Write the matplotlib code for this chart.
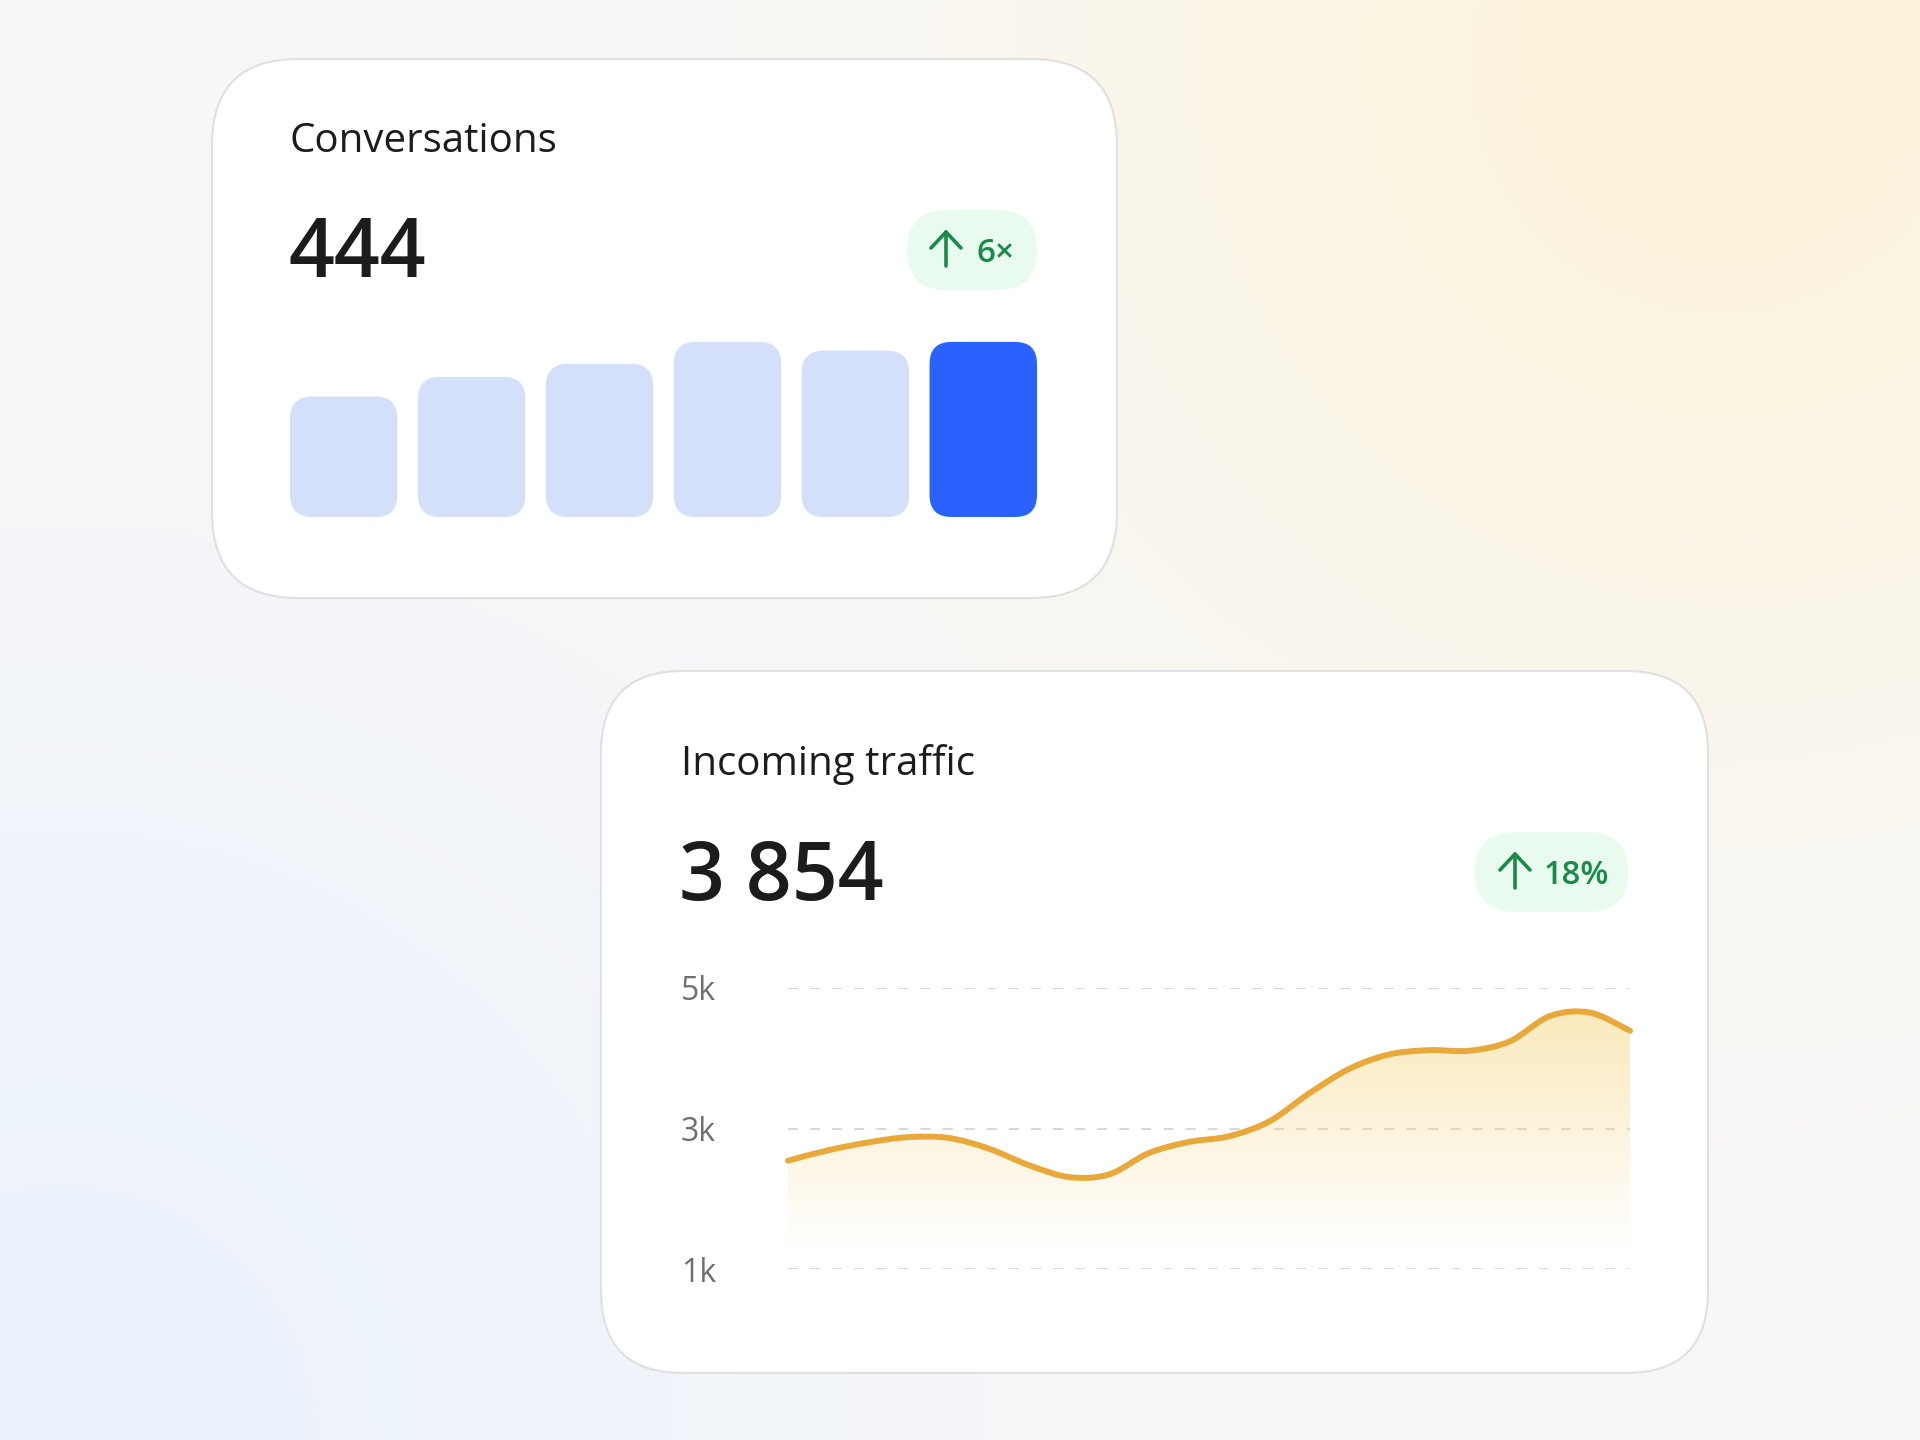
import numpy as np
import matplotlib
matplotlib.use("Agg")
import matplotlib.pyplot as plt
from matplotlib.patches import FancyBboxPatch, PathPatch
from matplotlib.path import Path

W, H = 1920, 1440
FONT = "Open Sans"

# card 1 data
conv_title = "Conversations"
conv_total = "444"
conv_change = "6×"
conv_values = [55, 64, 70, 80, 76, 80]

# card 2 data
traffic_title = "Incoming traffic"
traffic_total = "3 854"
traffic_change = "18%"
traffic_values = [2542, 2690, 2802, 2877, 2866, 2715, 2480, 2310, 2345, 2650, 2808,
                  2890, 3100, 3500, 3850, 4055, 4115, 4107, 4240, 4600, 4650, 4391]
traffic_ticks = [1000, 3000, 5000]
traffic_tick_labels = ["1k", "3k", "5k"]

TEXT = "#1c1c1c"
GREEN = "#1a8a4a"
BADGE = "#e9faef"
BAR_LIGHT = "#d4e0fa"
BAR_DARK = "#2962ff"
LINE = "#e8a83a"

fig = plt.figure(figsize=(W / 100, H / 100), dpi=100)


def px_axes(x0, y0, x1, y1):
    # place an axes by pixel box, origin top-left
    return fig.add_axes([x0 / W, 1 - y1 / H, (x1 - x0) / W, (y1 - y0) / H])


# background with soft glows
bg = fig.add_axes([0, 0, 1, 1])
bg.axis("off")
yy, xx = np.mgrid[0:H:4, 0:W:4].astype(float)
base = np.array([0.970, 0.970, 0.970])
yel = np.array([0.99, 0.955, 0.86])
blu = np.array([0.925, 0.95, 0.99])
wy = np.exp(-((xx - 1720) ** 2 + (yy - 60) ** 2) / (2 * 480 ** 2))[..., None]
wb = np.exp(-((xx - 60) ** 2 + (yy - 1440) ** 2) / (2 * 560 ** 2))[..., None]
img = base + wy * (yel - base) + wb * (blu - base)
bg.imshow(np.clip(img, 0, 1), extent=(0, W, H, 0), interpolation="bilinear", aspect="auto")
bg.set_xlim(0, W)
bg.set_ylim(H, 0)


def card(x0, y0, x1, y1, r):
    bg.add_patch(FancyBboxPatch((x0, y0), x1 - x0, y1 - y0,
                                boxstyle=f"round,pad=0,rounding_size={r}",
                                fc="white", ec="#e0e0e0", lw=1.5, zorder=2))


def badge(x0, y0, x1, y1, ax_c, text_x, base_y, label, fs):
    h = y1 - y0
    bg.add_patch(FancyBboxPatch((x0, y0), x1 - x0, h,
                                boxstyle=f"round,pad=0,rounding_size={h / 2}",
                                fc=BADGE, ec="none", zorder=3))
    top = base_y - 30
    bg.plot([ax_c, ax_c], [top, base_y + 4], color=GREEN, lw=2.6,
            solid_capstyle="round", zorder=4)
    bg.plot([ax_c - 15, ax_c, ax_c + 15], [top + 16, top, top + 16], color=GREEN,
            lw=2.6, solid_capstyle="round", solid_joinstyle="round", zorder=4)
    bg.text(text_x, base_y, label, fontsize=fs, color=GREEN, family=FONT,
            weight=600, va="baseline", ha="left", zorder=4)


card(212, 59, 1117, 598, 86)
card(601, 671, 1708, 1373, 82)

bg.text(290, 152, conv_title, fontsize=29, color=TEXT, family=FONT,
        va="baseline", zorder=4)
bg.text(288, 277, conv_total, fontsize=58, color=TEXT, family=FONT, weight=600,
        va="baseline", zorder=4)
badge(907, 210, 1037, 290, 946, 976, 262, conv_change, 24)

bg.text(681, 775, traffic_title, fontsize=29, color=TEXT, family=FONT,
        va="baseline", zorder=4)
bg.text(679, 900, traffic_total, fontsize=58, color=TEXT, family=FONT, weight=600,
        va="baseline", zorder=4)
badge(1475, 832, 1628, 912, 1515, 1544, 884, traffic_change, 23.5)

# bar chart
bx = px_axes(290, 320, 1037, 517)
bx.set_xlim(-0.42, len(conv_values) - 0.58)
bx.set_ylim(0, 90)
bx.axis("off")
colors = [BAR_LIGHT] * (len(conv_values) - 1) + [BAR_DARK]
bars = bx.bar(range(len(conv_values)), conv_values, width=0.84, color=colors)
ux = (bx.get_xlim()[1] - bx.get_xlim()[0]) / (1037 - 290)
uy = (bx.get_ylim()[1] - bx.get_ylim()[0]) / (517 - 320)
r = 22
for rect, c in zip(bars, colors):
    bx.add_patch(FancyBboxPatch((rect.get_x(), rect.get_y()), rect.get_width(), rect.get_height(),
                                boxstyle=f"round,pad=0,rounding_size={r * ux}",
                                mutation_aspect=uy / ux, fc=c, ec="none"))
    rect.remove()

# line chart
lx = px_axes(788, 988, 1630, 1269)
n = len(traffic_values)
lx.set_xlim(0, n - 1)
lx.set_ylim(1000, 5000)
for s in lx.spines.values():
    s.set_visible(False)
lx.set_xticks([])
lx.set_yticks(traffic_ticks, traffic_tick_labels)
lx.tick_params(axis="y", length=0, pad=77, labelsize=23, labelcolor="#6f6f6f")
for lab in lx.get_yticklabels():
    lab.set_ha("left")
    lab.set_family(FONT)
lx.grid(axis="y", color="#d9d9d9", lw=1.5, linestyle=(0, (4.8, 5.8)))
lx.set_axisbelow(True)
lx.patch.set_alpha(0)

# smooth curve through the points (catmull-rom as bezier)
P = np.column_stack([np.arange(n), traffic_values]).astype(float)
verts = [P[0]]
codes = [Path.MOVETO]
for i in range(n - 1):
    p0 = P[i - 1] if i > 0 else P[i]
    p1, p2 = P[i], P[i + 1]
    p3 = P[i + 2] if i + 2 < n else P[i + 1]
    verts += [p1 + (p2 - p0) / 6, p2 - (p3 - p1) / 6, p2]
    codes += [Path.CURVE4] * 3
line_path = Path(verts, codes)
fill_path = Path(verts + [(n - 1, 1000), (0, 1000), (0, 1000)],
                 codes + [Path.LINETO, Path.LINETO, Path.CLOSEPOLY])

gy = np.linspace(1000, 5000, 200)
alpha = np.clip((gy - 1250) / (4700 - 1250), 0, 1) * 0.48
grad = np.zeros((200, 2, 4))
grad[..., 0], grad[..., 1], grad[..., 2] = 0.96, 0.82, 0.45
grad[..., 3] = alpha[:, None]
im = lx.imshow(grad, extent=(0, n - 1, 1000, 5000), origin="lower", aspect="auto",
               interpolation="bilinear", zorder=1)
clip = PathPatch(fill_path, transform=lx.transData, fc="none", ec="none")
lx.add_patch(clip)
im.set_clip_path(clip)
lx.add_patch(PathPatch(line_path, fill=False, ec=LINE, lw=4.3, capstyle="round",
                       joinstyle="round", zorder=3, clip_on=False))

fig.savefig("out.png", dpi=100)
